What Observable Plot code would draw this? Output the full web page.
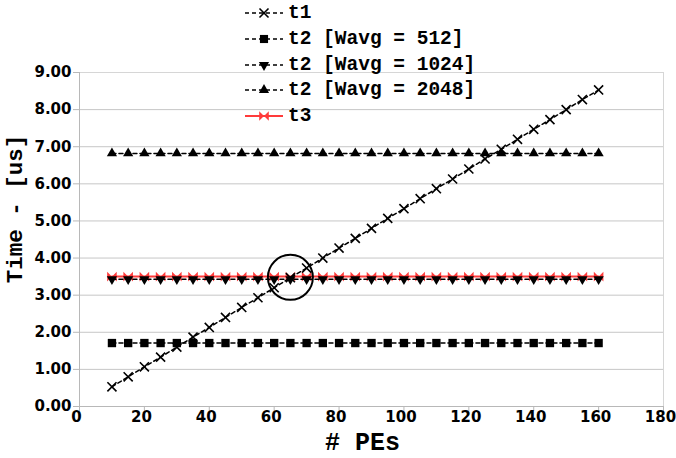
<!DOCTYPE html>
<html><head><meta charset="utf-8">
<script src="https://cdn.jsdelivr.net/npm/d3@7"></script>
<script src="https://cdn.jsdelivr.net/npm/@observablehq/plot@0.6"></script>
<style>
body{margin:0;background:#fff;}
#wrap{position:relative;width:676px;height:458px;overflow:hidden;}
#legend{position:absolute;left:0;top:0;font:bold 19.5px "Liberation Mono",monospace;color:#000;}
.row{position:absolute;left:244px;height:26px;display:flex;align-items:center;white-space:pre;}
.row svg{margin-right:4px;}
#ytitle{position:absolute;left:16px;top:209px;transform:translate(-50%,-50%) rotate(-90deg);white-space:pre;font:bold 22.5px "Liberation Mono",monospace;color:#000;line-height:1;}
</style></head><body>
<div id="wrap"><div id="chart"></div><div id="legend"></div><div id="ytitle"></div></div>
<script>
// ---- data ----
const pes = [10,15,20,25,30,35,40,45,50,55,60,65,70,75,80,85,90,95,100,105,110,115,120,125,130,135,140,145,150,155,160];
const t1 = [0.53,0.80,1.07,1.33,1.60,1.87,2.13,2.40,2.67,2.93,3.20,3.47,3.73,4.00,4.27,4.53,4.80,5.07,5.33,5.60,5.87,6.13,6.40,6.67,6.93,7.20,7.47,7.73,8.00,8.27,8.53];
const t2w512 = [1.71,1.71,1.71,1.71,1.71,1.71,1.71,1.71,1.71,1.71,1.71,1.71,1.71,1.71,1.71,1.71,1.71,1.71,1.71,1.71,1.71,1.71,1.71,1.71,1.71,1.71,1.71,1.71,1.71,1.71,1.71];
const t2w1024 = [3.43,3.43,3.43,3.43,3.43,3.43,3.43,3.43,3.43,3.43,3.43,3.43,3.43,3.43,3.43,3.43,3.43,3.43,3.43,3.43,3.43,3.43,3.43,3.43,3.43,3.43,3.43,3.43,3.43,3.43,3.43];
const t2w2048 = [6.82,6.82,6.82,6.82,6.82,6.82,6.82,6.82,6.82,6.82,6.82,6.82,6.82,6.82,6.82,6.82,6.82,6.82,6.82,6.82,6.82,6.82,6.82,6.82,6.82,6.82,6.82,6.82,6.82,6.82,6.82];
const t3 = [3.50,3.50,3.50,3.50,3.50,3.50,3.50,3.50,3.50,3.50,3.50,3.50,3.50,3.50,3.50,3.50,3.50,3.50,3.50,3.50,3.50,3.50,3.50,3.50,3.50,3.50,3.50,3.50,3.50,3.50,3.50];
const seriesNames = ["t1","t2 [Wavg = 512]","t2 [Wavg = 1024]","t2 [Wavg = 2048]","t3"];
const xTicks = [0,20,40,60,80,100,120,140,160,180];
const yTicks = [0,1,2,3,4,5,6,7,8,9];
const circleX = [65];
const circleY = [3.48];
const xTitle = "# PEs";
const yTitle = "Time - [us]";

// ---- custom symbols ----
const SQ3 = Math.sqrt(3);
const triangleDown = { draw(ctx, size) {
  const y = -Math.sqrt(size / (SQ3 * 3));
  ctx.moveTo(0, -y * 2); ctx.lineTo(-SQ3 * y, y); ctx.lineTo(SQ3 * y, y); ctx.closePath();
}};
const bowtie = { draw(ctx, size) {
  const s = Math.sqrt(size) / 2;
  ctx.moveTo(-s, -s); ctx.lineTo(s, s); ctx.lineTo(s, -s); ctx.lineTo(-s, s); ctx.closePath();
}};

const RED = "#ff3b3b";
const dash = "4,3";
const tickFont = {fontFamily: "DejaVu Sans", fontWeight: "bold", fontSize: 15};

const plot = Plot.plot({
  width: 676, height: 458,
  marginLeft: 79, marginRight: 13, marginTop: 72, marginBottom: 52,
  x: {domain: [0, 180]},
  y: {domain: [0, 9]},
  style: {fontFamily: "DejaVu Sans", fontWeight: "bold", fontSize: "15px", color: "#000", background: "#fff"},
  marks: [
    Plot.gridY(yTicks, {stroke: "#c6c6c6", strokeOpacity: 1}),
    Plot.frame({stroke: "#d6d6d6"}),
    Plot.ruleX([0], {stroke: "#b8b8b8"}),
    Plot.ruleY([0], {stroke: "#b8b8b8"}),
    Plot.axisX(xTicks, {tickSize: 5, tickFormat: () => "", label: null, stroke: "#b8b8b8"}),
    Plot.text(xTicks, {x: d => d, frameAnchor: "bottom", dy: 15, dx: -3, text: d => String(d), fill: "#000", ...tickFont}),
    Plot.axisY(yTicks, {tickSize: 6, tickPadding: 2, label: null, stroke: "#b8b8b8", fill: "#000", tickFormat: d => d.toFixed(2), ...tickFont}),
    Plot.text([xTitle], {frameAnchor: "bottom", dx: -9, dy: 43, fontFamily: "Liberation Mono", fontWeight: "bold", fontSize: 25, fill: "#000"}),
    // t3 (red)
    Plot.line(t3, {x: pes, y: t3, stroke: RED, strokeWidth: 2}),
    Plot.dot(t3, {x: pes, y: t3, symbol: bowtie, r: 5.4, fill: RED, stroke: "none"}),
    // t2 series
    Plot.line(t2w512, {x: pes, y: t2w512, stroke: "#000", strokeWidth: 1.5, strokeDasharray: dash}),
    Plot.dot(t2w512, {x: pes, y: t2w512, symbol: "square", r: 4.7, fill: "#000", stroke: "none"}),
    Plot.line(t2w1024, {x: pes, y: t2w1024, stroke: "#000", strokeWidth: 1.5, strokeDasharray: dash}),
    Plot.dot(t2w1024, {x: pes, y: t2w1024, symbol: triangleDown, r: 3.8, fill: "#000", stroke: "none"}),
    Plot.line(t2w2048, {x: pes, y: t2w2048, stroke: "#000", strokeWidth: 1.5, strokeDasharray: dash}),
    Plot.dot(t2w2048, {x: pes, y: t2w2048, symbol: "triangle", r: 3.8, fill: "#000", stroke: "none"}),
    // t1
    Plot.line(t1, {x: pes, y: t1, stroke: "#000", strokeWidth: 1.5, strokeDasharray: dash}),
    Plot.dot(t1, {x: pes, y: t1, symbol: "times", r: 4.2, stroke: "#000", strokeWidth: 1.6, fill: "none"}),
    // circle annotation
    Plot.dot(circleX, {x: circleX, y: circleY, r: 22.5, stroke: "#000", strokeWidth: 2, fill: "none"})
  ]
});
document.getElementById("chart").appendChild(plot);
document.getElementById("ytitle").textContent = yTitle;

// ---- legend ----
const legendSpec = [
  {sym: d3.symbolTimes, size: 55, color: "#000", line: "#000", dashed: true, stroke: true},
  {sym: d3.symbolSquare, size: 66, color: "#000", line: "#000", dashed: true},
  {sym: triangleDown, size: 45, color: "#000", line: "#000", dashed: true},
  {sym: d3.symbolTriangle, size: 45, color: "#000", line: "#000", dashed: true},
  {sym: bowtie, size: 92, color: RED, line: RED, dashed: false}
];
const legendTop = [13, 39, 65, 90, 116];
const leg = d3.select("#legend");
seriesNames.forEach((name, i) => {
  const s = legendSpec[i];
  const row = leg.append("div").attr("class", "row").style("top", (legendTop[i] - 13) + "px");
  const svg = row.append("svg").attr("width", 40).attr("height", 16);
  svg.append("line").attr("x1", 1).attr("x2", 39).attr("y1", 8).attr("y2", 8)
    .attr("stroke", s.line).attr("stroke-width", s.dashed ? 1.5 : 2)
    .attr("stroke-dasharray", s.dashed ? dash : null);
  svg.append("path").attr("transform", "translate(20,8)")
    .attr("d", d3.symbol(s.sym, s.size)())
    .attr("fill", s.stroke ? "none" : s.color)
    .attr("stroke", s.stroke ? s.color : "none")
    .attr("stroke-width", 1.6);
  row.append("span").text(name);
});
</script>
</body></html>
